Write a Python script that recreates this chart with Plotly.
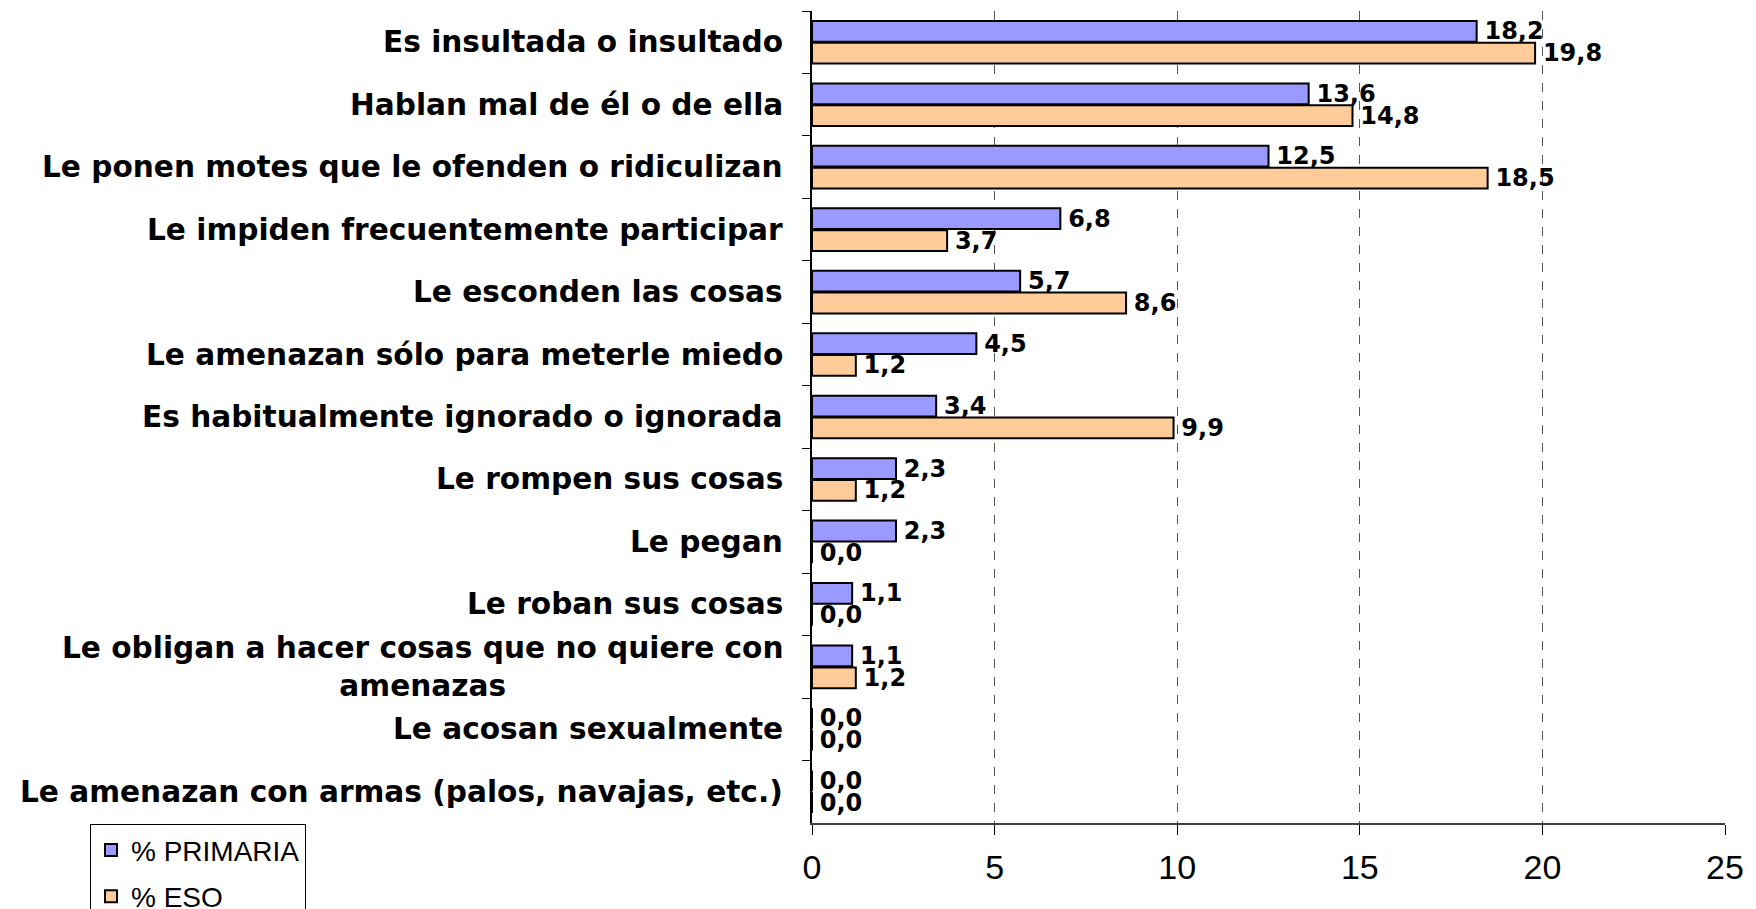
import plotly.graph_objects as go

categories = [
    "Es insultada o insultado",
    "Hablan mal de él o de ella",
    "Le ponen motes que le ofenden o ridiculizan",
    "Le impiden frecuentemente participar",
    "Le esconden las cosas",
    "Le amenazan sólo para meterle miedo",
    "Es habitualmente ignorado o ignorada",
    "Le rompen sus cosas",
    "Le pegan",
    "Le roban sus cosas",
    "Le obligan a hacer cosas que no quiere con<br>amenazas",
    "Le acosan sexualmente",
    "Le amenazan con armas (palos, navajas, etc.)",
]
primaria = [18.2, 13.6, 12.5, 6.8, 5.7, 4.5, 3.4, 2.3, 2.3, 1.1, 1.1, 0.0, 0.0]
eso = [19.8, 14.8, 18.5, 3.7, 8.6, 1.2, 9.9, 1.2, 0.0, 0.0, 1.2, 0.0, 0.0]
x_ticks = [0, 5, 10, 15, 20, 25]

label_font = dict(family="DejaVu Sans", size=24, color="black", weight="bold")


def fmt(v):
    # leading thin space keeps a small gap between bar end and label
    return "\u2009" + f"{v:.1f}".replace(".", ",")


fig = go.Figure()
fig.add_trace(go.Bar(
    y=categories, x=primaria, orientation="h", name="% PRIMARIA",
    legendgroup="p",
    marker=dict(color="#9999FF", line=dict(color="black", width=2)),
    text=[fmt(v) for v in primaria], textposition="outside",
    textfont=label_font, constraintext="none", cliponaxis=False,
))
fig.add_trace(go.Bar(
    y=categories, x=eso, orientation="h", name="% ESO",
    legendgroup="e",
    marker=dict(color="#FFCC99", line=dict(color="black", width=2)),
    text=[fmt(v) for v in eso], textposition="outside",
    textfont=label_font, constraintext="none", cliponaxis=False,
))

# category labels as annotations so the two-line one can be centred
for cat in categories:
    fig.add_annotation(
        x=0, xref="paper", y=cat, yref="y", text=cat, showarrow=False,
        xanchor="right", align="center", xshift=-27,
        font=dict(family="DejaVu Sans", size=29.6, color="black", weight="bold"),
    )

# page body has an 8px margin, so the margins are trimmed to compensate
fig.update_layout(
    width=1756, height=909,
    margin=dict(l=804, r=39, t=3, b=94, autoexpand=False),
    barmode="group", bargap=0.3, bargroupgap=0.05,
    plot_bgcolor="white", paper_bgcolor="white",
    showlegend=True,
    legend=dict(
        x=(82 - 804) / 913, y=-0.0015, xanchor="left", yanchor="top",
        bordercolor="black", borderwidth=1, bgcolor="white",
        font=dict(family="Liberation Sans", size=28, color="black"),
        traceorder="grouped", tracegroupgap=7,
    ),
)
fig.update_xaxes(
    range=[0, 25], tickvals=x_ticks,
    showgrid=True, gridcolor="#555555", griddash="dash", gridwidth=1,
    zeroline=False, showline=True, linecolor="#404040", linewidth=2,
    ticks="outside", ticklen=10, tickcolor="black", ticklabelstandoff=3,
    tickfont=dict(family="Liberation Sans", size=34, color="black"),
)
fig.update_yaxes(
    range=[12.5, -0.5], showticklabels=False,
    showline=True, linecolor="black", linewidth=1.5,
    ticks="outside", tickson="boundaries", ticklen=8, tickcolor="black",
    showgrid=False, zeroline=False,
)

fig.write_html("out.html")
